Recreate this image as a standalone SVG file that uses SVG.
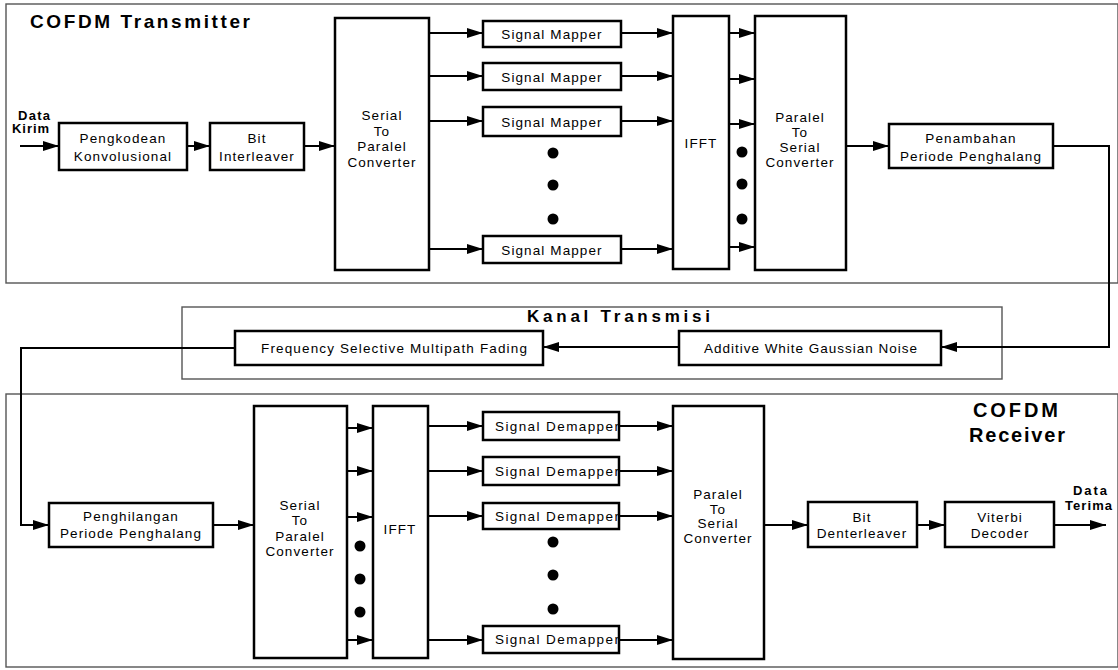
<svg xmlns="http://www.w3.org/2000/svg" width="1118" height="670" viewBox="0 0 1118 670">
<style>
.frame{fill:#fff;stroke:#555;stroke-width:1.4}
.box{fill:#fff;stroke:#000;stroke-width:2.5}
.arr{fill:none;stroke:#000;stroke-width:2;marker-end:url(#ah)}
.t{font-family:"Liberation Sans",Arial,sans-serif;font-size:13.5px;letter-spacing:1.1px;text-anchor:middle;fill:#000}
.tb{font-family:"Liberation Sans",Arial,sans-serif;font-weight:bold;fill:#000}
.dot{fill:#000}
</style>
<defs>
<marker id="ah" markerWidth="16" markerHeight="10" refX="16" refY="5" orient="auto" markerUnits="userSpaceOnUse">
<path d="M0,0 L16,5 L0,10 z" fill="#000"/>
</marker>
</defs>
<rect width="1118" height="670" fill="#fff"/>

<g id="frames">
<g id="tx-frame"><rect class="frame" x="6" y="4" width="1112" height="279"/>
<text class="tb" x="30" y="28" font-size="19" textLength="220" lengthAdjust="spacing">COFDM Transmitter</text></g>
<g id="channel-frame"><rect class="frame" x="182" y="307" width="820" height="72"/>
<text class="tb" x="527" y="322" font-size="17" textLength="183" lengthAdjust="spacing">Kanal Transmisi</text></g>
<g id="rx-frame"><rect class="frame" x="6" y="394" width="1112" height="273"/>
<text class="tb" x="973" y="417" font-size="20" textLength="85" lengthAdjust="spacing">COFDM</text>
<text class="tb" x="969" y="442" font-size="20" textLength="96" lengthAdjust="spacing">Receiver</text></g>
</g>

<g id="connectors">
<path class="arr" d="M20,146 H59"/>
<path class="arr" d="M187,146 H210"/>
<path class="arr" d="M304,146 H335"/>
<path class="arr" d="M429,33 H483"/>
<path class="arr" d="M429,76 H483"/>
<path class="arr" d="M429,121 H483"/>
<path class="arr" d="M429,249 H483"/>
<path class="arr" d="M621,33 H673"/>
<path class="arr" d="M621,76 H673"/>
<path class="arr" d="M621,121 H673"/>
<path class="arr" d="M621,249 H673"/>
<path class="arr" d="M729,33 H755"/>
<path class="arr" d="M729,79 H755"/>
<path class="arr" d="M729,124 H755"/>
<path class="arr" d="M729,247 H755"/>
<path class="arr" d="M846,146 H889"/>
<path class="arr" d="M1053,146 H1109 V347 H941"/>
<path class="arr" d="M679,347 H543"/>
<path class="arr" d="M235,348 H21 V525 H49"/>
<path class="arr" d="M213,525 H254"/>
<path class="arr" d="M347,428 H373"/>
<path class="arr" d="M347,471 H373"/>
<path class="arr" d="M347,517 H373"/>
<path class="arr" d="M347,640 H373"/>
<path class="arr" d="M428,426 H483"/>
<path class="arr" d="M428,471 H483"/>
<path class="arr" d="M428,516 H483"/>
<path class="arr" d="M428,640 H483"/>
<path class="arr" d="M619,426 H673"/>
<path class="arr" d="M619,471 H673"/>
<path class="arr" d="M619,516 H673"/>
<path class="arr" d="M619,640 H673"/>
<path class="arr" d="M764,525 H808"/>
<path class="arr" d="M917,525 H945"/>
<path class="arr" d="M1054,525 H1106"/>
</g>

<g id="dots">
<circle class="dot" cx="553" cy="153" r="5.5"/>
<circle class="dot" cx="553" cy="185" r="5.5"/>
<circle class="dot" cx="553" cy="219" r="5.5"/>
<circle class="dot" cx="742" cy="152" r="5.5"/>
<circle class="dot" cx="742" cy="184" r="5.5"/>
<circle class="dot" cx="742" cy="219" r="5.5"/>
<circle class="dot" cx="360" cy="546" r="5.5"/>
<circle class="dot" cx="360" cy="579" r="5.5"/>
<circle class="dot" cx="360" cy="612" r="5.5"/>
<circle class="dot" cx="553" cy="542" r="5.5"/>
<circle class="dot" cx="553" cy="575" r="5.5"/>
<circle class="dot" cx="553" cy="609" r="5.5"/>
</g>

<g id="labels">
<text class="tb" font-size="13" x="18" y="120" textLength="32" lengthAdjust="spacing">Data</text>
<text class="tb" font-size="13" x="12" y="133" textLength="37" lengthAdjust="spacing">Kirim</text>
<text class="tb" font-size="13" x="1073" y="495" textLength="34" lengthAdjust="spacing">Data</text>
<text class="tb" font-size="13" x="1065" y="510" textLength="47" lengthAdjust="spacing">Terima</text>
</g>

<g id="n-pengkodean"><rect class="box" x="59" y="123" width="128" height="47"/>
<text class="t" x="123" y="143">Pengkodean</text><text class="t" x="123" y="161">Konvolusional</text></g>
<g id="n-interleaver"><rect class="box" x="210" y="123" width="94" height="47"/>
<text class="t" x="257" y="143">Bit</text><text class="t" x="257" y="161">Interleaver</text></g>
<g id="n-tx-sp"><rect class="box" x="335" y="18" width="94" height="252"/>
<text class="t" x="382" y="120">Serial</text><text class="t" x="382" y="135.5">To</text><text class="t" x="382" y="151">Paralel</text><text class="t" x="382" y="166.5">Converter</text></g>
<g id="n-mapper1"><rect class="box" x="483" y="21" width="138" height="26"/><text class="t" x="552" y="38.5">Signal Mapper</text></g>
<g id="n-mapper2"><rect class="box" x="483" y="63" width="138" height="27"/><text class="t" x="552" y="81.5">Signal Mapper</text></g>
<g id="n-mapper3"><rect class="box" x="483" y="107" width="138" height="29"/><text class="t" x="552" y="126.5">Signal Mapper</text></g>
<g id="n-mapper4"><rect class="box" x="483" y="236" width="138" height="27"/><text class="t" x="552" y="254.5">Signal Mapper</text></g>
<g id="n-tx-ifft"><rect class="box" x="673" y="16" width="56" height="253"/><text class="t" x="701" y="148" font-size="14.5">IFFT</text></g>
<g id="n-tx-ps"><rect class="box" x="755" y="16" width="91" height="254"/>
<text class="t" x="800" y="122">Paralel</text><text class="t" x="800" y="136.5">To</text><text class="t" x="800" y="152">Serial</text><text class="t" x="800" y="166.5">Converter</text></g>
<g id="n-penambahan"><rect class="box" x="889" y="124" width="164" height="44"/>
<text class="t" x="971" y="143">Penambahan</text><text class="t" x="971" y="161">Periode Penghalang</text></g>

<g id="n-fading"><rect class="box" x="235" y="331" width="308" height="34"/>
<text class="t" x="261" y="353" style="text-anchor:start" textLength="267" lengthAdjust="spacing">Frequency Selective Multipath Fading</text></g>
<g id="n-awgn"><rect class="box" x="679" y="331" width="262" height="34"/>
<text class="t" x="704" y="353" style="text-anchor:start" textLength="214" lengthAdjust="spacing">Additive White Gaussian Noise</text></g>

<g id="n-penghilangan"><rect class="box" x="49" y="503" width="164" height="44"/>
<text class="t" x="131" y="521">Penghilangan</text><text class="t" x="131" y="538">Periode Penghalang</text></g>
<g id="n-rx-sp"><rect class="box" x="254" y="406" width="93" height="252"/>
<text class="t" x="300" y="510">Serial</text><text class="t" x="300" y="525">To</text><text class="t" x="300" y="541">Paralel</text><text class="t" x="300" y="556">Converter</text></g>
<g id="n-rx-ifft"><rect class="box" x="373" y="406" width="55" height="252"/><text class="t" x="400" y="534" font-size="14.5">IFFT</text></g>
<g id="n-demapper1"><rect class="box" x="483" y="412" width="136" height="28"/><text class="t" x="495" y="431" style="text-anchor:start" textLength="125" lengthAdjust="spacing">Signal Demapper</text></g>
<g id="n-demapper2"><rect class="box" x="483" y="457" width="136" height="28"/><text class="t" x="495" y="476" style="text-anchor:start" textLength="125" lengthAdjust="spacing">Signal Demapper</text></g>
<g id="n-demapper3"><rect class="box" x="483" y="503" width="136" height="26"/><text class="t" x="495" y="521" style="text-anchor:start" textLength="125" lengthAdjust="spacing">Signal Demapper</text></g>
<g id="n-demapper4"><rect class="box" x="483" y="626" width="136" height="27"/><text class="t" x="495" y="644" style="text-anchor:start" textLength="125" lengthAdjust="spacing">Signal Demapper</text></g>
<g id="n-rx-ps"><rect class="box" x="673" y="406" width="91" height="253"/>
<text class="t" x="718" y="499">Paralel</text><text class="t" x="718" y="514">To</text><text class="t" x="718" y="528">Serial</text><text class="t" x="718" y="543">Converter</text></g>
<g id="n-denterleaver"><rect class="box" x="808" y="502" width="109" height="45"/>
<text class="t" x="862" y="522">Bit</text><text class="t" x="862" y="538">Denterleaver</text></g>
<g id="n-viterbi"><rect class="box" x="945" y="502" width="109" height="45"/>
<text class="t" x="1000" y="522">Viterbi</text><text class="t" x="1000" y="538">Decoder</text></g>
</svg>
